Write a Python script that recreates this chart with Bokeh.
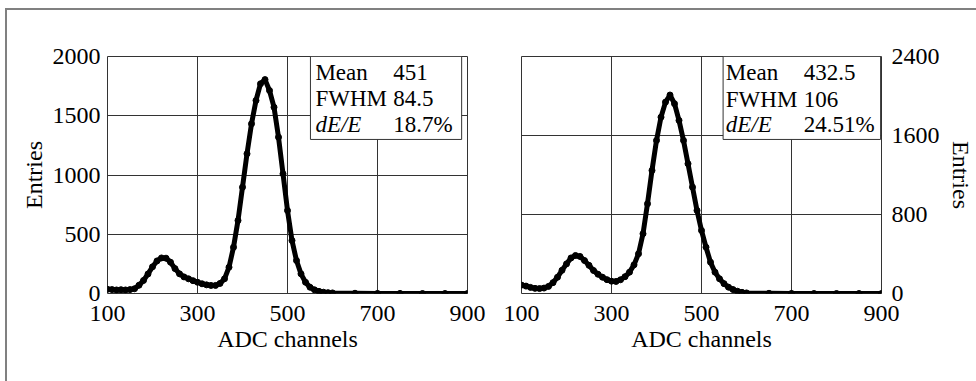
from bokeh.plotting import figure
from bokeh.layouts import row
from bokeh.models import Range1d, FixedTicker, BoxAnnotation, Label
from bokeh.embed import file_html
from bokeh.resources import INLINE

# ---- data ----
x_left = [100, 110, 120, 130, 140, 150, 160, 170, 180, 190, 200, 210, 220, 230, 240,
          250, 260, 270, 280, 290, 300, 310, 320, 330, 340, 350, 360, 370, 380, 390,
          400, 410, 420, 430, 440, 450, 460, 470, 480, 490, 500, 510, 520, 530, 540,
          550, 560, 570, 580, 590, 600, 650, 700, 750, 800, 850, 900]
y_left = [35, 33, 30, 32, 30, 33, 40, 70, 110, 165, 225, 275, 300, 298, 264,
          210, 166, 140, 124, 108, 95, 82, 73, 68, 68, 85, 124, 222, 390, 616,
          897, 1179, 1432, 1629, 1770, 1805, 1713, 1572, 1319, 1010, 700, 447, 278, 166, 95,
          53, 31, 18, 11, 7, 5, 2, 1, 1, 0, 0, 0]

x_right = [100, 110, 120, 130, 140, 150, 160, 170, 180, 190, 200, 210, 220, 230, 240,
           250, 260, 270, 280, 290, 300, 310, 320, 330, 340, 350, 360, 370, 380, 390,
           400, 410, 420, 430, 440, 450, 460, 470, 480, 490, 500, 510, 520, 530, 540,
           550, 560, 570, 580, 590, 600, 650, 700, 750, 800, 850, 900]
y_right = [85, 75, 62, 52, 50, 55, 72, 110, 165, 235, 300, 360, 385, 375, 334,
           285, 233, 195, 165, 140, 125, 122, 139, 170, 216, 290, 402, 605, 909, 1246,
           1550, 1786, 1938, 2010, 1922, 1753, 1550, 1314, 1077, 841, 638, 469, 317, 216, 149,
           100, 64, 40, 23, 12, 6, 2, 1, 0, 0, 0, 0]

x_ticks = [100, 300, 500, 700, 900]
y_ticks_left = [0, 500, 1000, 1500, 2000]
y_ticks_right = [0, 800, 1600, 2400]

stats_keys = ["Mean", "FWHM", "dE/E"]
stats_left = ["451", "84.5", "18.7%"]
stats_right = ["432.5", "106", "24.51%"]

x_label = "ADC channels"
y_label = "Entries"

FONT = "Liberation Serif"
FS = "24px"
FS_BOX = "23px"
GRID = "#333333"


def style(p, yt, y_standoff, y_label_standoff):
    p.xaxis.ticker = FixedTicker(ticks=x_ticks)
    p.yaxis.ticker = FixedTicker(ticks=yt)
    for ax in (p.xaxis, p.yaxis):
        ax.axis_line_color = None
        ax.major_tick_line_color = None
        ax.minor_tick_line_color = None
        ax.major_label_text_font = FONT
        ax.major_label_text_font_size = FS
        ax.major_label_text_color = "black"
        ax.axis_label_text_font = FONT
        ax.axis_label_text_font_size = FS
        ax.axis_label_text_font_style = "normal"
        ax.axis_label_text_color = "black"
    p.xaxis.axis_label = x_label
    p.yaxis.axis_label = y_label
    p.xaxis.major_label_standoff = 6
    p.xaxis.axis_label_standoff = 2
    p.yaxis.major_label_standoff = y_standoff
    p.yaxis.axis_label_standoff = y_label_standoff
    p.xgrid.ticker = FixedTicker(ticks=x_ticks)
    p.ygrid.ticker = FixedTicker(ticks=yt)
    for g in (p.xgrid, p.ygrid):
        g.grid_line_color = GRID
        g.grid_line_width = 1
    p.outline_line_color = GRID
    p.outline_line_width = 1
    p.background_fill_color = "white"
    p.border_fill_color = "white"


def stats_box(p, left, right, bottom, top, xk, xv, ys, values):
    p.add_layout(BoxAnnotation(left=left, right=right, bottom=bottom, top=top,
                               fill_color="white", fill_alpha=1.0,
                               line_color=GRID, line_alpha=1.0, line_width=1))
    for k, v, y in zip(stats_keys, values, ys):
        p.add_layout(Label(x=xk, y=y, text=k, text_font=FONT, text_font_size=FS_BOX,
                           text_baseline="alphabetic", text_color="black",
                           text_font_style="italic" if k == "dE/E" else "normal"))
        p.add_layout(Label(x=xv, y=y, text=v, text_font=FONT, text_font_size=FS_BOX,
                           text_baseline="alphabetic", text_color="black"))


# ---- left panel ----
p1 = figure(width=483, height=371, output_backend="svg", toolbar_location=None,
            x_range=Range1d(100, 900), y_range=Range1d(0, 2000),
            min_border_left=100, min_border_right=23, min_border_top=46, min_border_bottom=88)
style(p1, y_ticks_left, 1, 3)
p1.line(x_left, y_left, line_color="black", line_width=5, line_join="round")
p1.scatter(x_left, y_left, size=6, color="black")
stats_box(p1, 551, 887, 1300, 2000, 562, 735, [1868, 1648, 1429], stats_left)

# ---- right panel ----
p2 = figure(width=486, height=371, output_backend="svg", toolbar_location=None,
            x_range=Range1d(100, 900), y_range=Range1d(0, 2400), y_axis_location="right",
            min_border_left=31, min_border_right=94, min_border_top=46, min_border_bottom=88)
style(p2, y_ticks_right, 4, 5)
p2.line(x_right, y_right, line_color="black", line_width=5, line_join="round")
p2.scatter(x_right, y_right, size=6, color="black")
stats_box(p2, 548, 898, 1560, 2400, 554, 727, [2242, 1968, 1715], stats_right)

layout = row(p1, p2, styles={"border-top": "2px solid #808080",
                             "border-left": "2px solid #808080",
                             "margin-top": "8px",
                             "margin-left": "5px"})

open("out.html", "w").write(file_html(layout, INLINE))
